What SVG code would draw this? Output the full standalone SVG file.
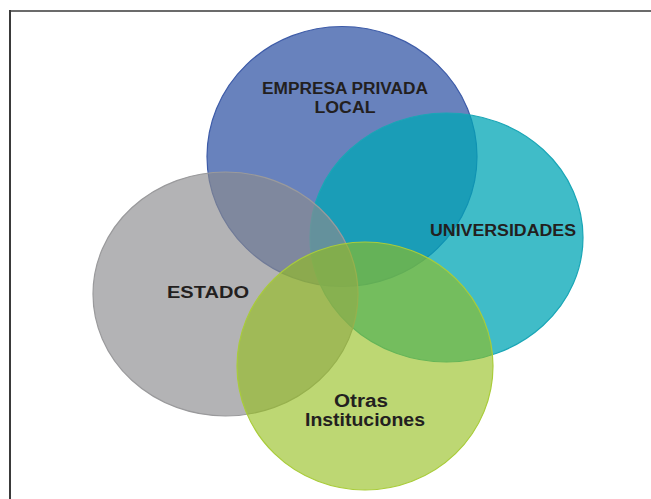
<svg xmlns="http://www.w3.org/2000/svg" width="651" height="499" viewBox="0 0 651 499">
<style>
.lbl{font-family:"Liberation Sans",Arial,sans-serif;font-weight:bold;fill:#231f20;text-anchor:middle}
.frame{fill:none;stroke-width:2}
</style>
<rect width="651" height="499" fill="#ffffff"/>
<g id="frame">
<line class="frame" x1="9" y1="11" x2="651" y2="11" stroke="#6b6b6b"/>
<line class="frame" x1="10" y1="10" x2="10" y2="499" stroke="#3a3a3a"/>
</g>
<g id="connectors"></g>
<g id="empresa">
<ellipse cx="342" cy="156.5" rx="135" ry="130" fill="#6882bd" stroke="#3d5ba8" stroke-width="1.2"/>
</g>
<g id="universidades">
<ellipse cx="446.5" cy="237.5" rx="136.5" ry="124.5" fill="rgb(0,165,181)" fill-opacity="0.75" stroke="#1aa6b6" stroke-width="1.2"/>
</g>
<g id="estado">
<ellipse cx="225.5" cy="294" rx="132.5" ry="122" fill="rgb(140,140,143)" fill-opacity="0.66" stroke="#9a9a9c" stroke-width="1.2"/>
</g>
<g id="otras">
<ellipse cx="365" cy="366" rx="128" ry="124" fill="rgb(148,190,29)" fill-opacity="0.62" stroke="#a9cc3a" stroke-width="1.2"/>
</g>
<g id="labels">
<text class="lbl" x="345" y="94" font-size="16" textLength="166" lengthAdjust="spacingAndGlyphs">EMPRESA PRIVADA</text>
<text class="lbl" x="345" y="113" font-size="16" textLength="61" lengthAdjust="spacingAndGlyphs">LOCAL</text>
<text class="lbl" x="503" y="236" font-size="16" textLength="146" lengthAdjust="spacingAndGlyphs">UNIVERSIDADES</text>
<text class="lbl" x="208" y="298" font-size="17" textLength="82" lengthAdjust="spacingAndGlyphs">ESTADO</text>
<text class="lbl" x="361" y="406.5" font-size="18" textLength="54" lengthAdjust="spacingAndGlyphs">Otras</text>
<text class="lbl" x="365" y="425.5" font-size="18" textLength="120" lengthAdjust="spacingAndGlyphs">Instituciones</text>
</g>
</svg>
